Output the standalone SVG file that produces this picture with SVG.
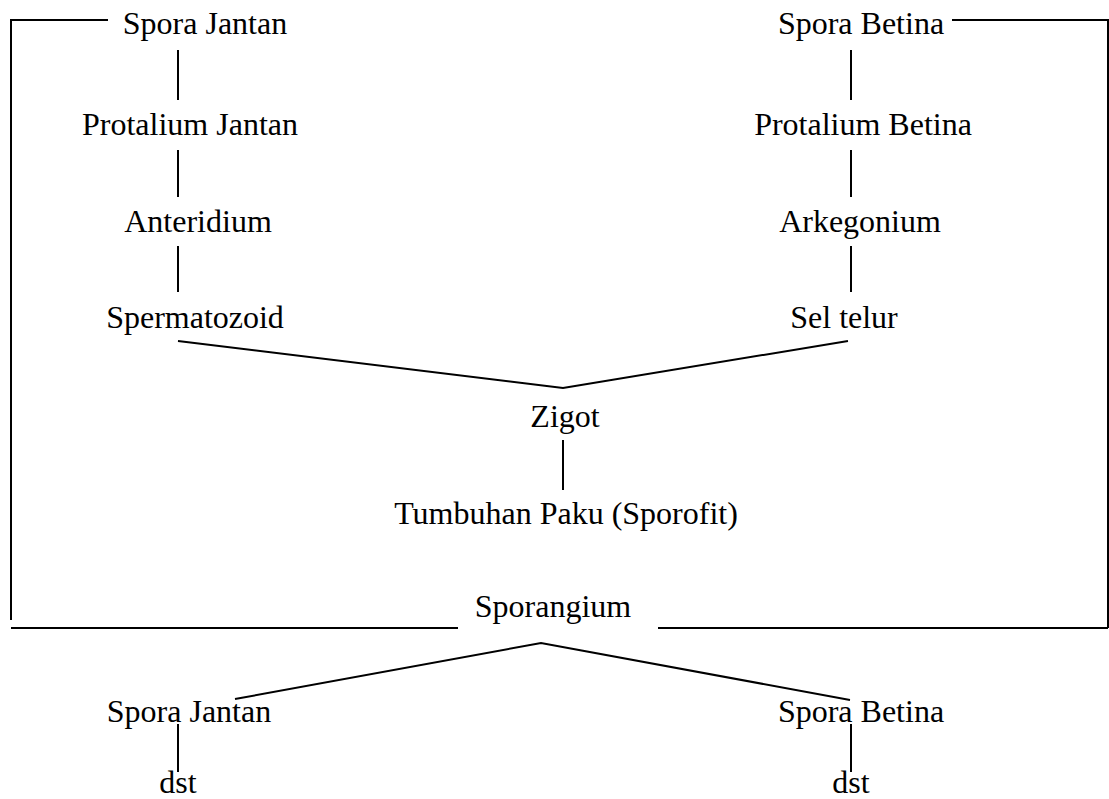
<svg xmlns="http://www.w3.org/2000/svg" width="1109" height="799" viewBox="0 0 1109 799">
<style>
text{font-family:"Liberation Serif","Times New Roman",serif;font-size:32px;fill:#000;text-anchor:middle}
line,polyline{stroke:#000;stroke-width:2;fill:none}
</style>
<rect width="1109" height="799" fill="#fff"/>
<g id="connectors">
<polyline points="108,20 11,20 11,620"/>
<polyline points="952,20 1108,20 1108,628"/>
<line x1="11" y1="628" x2="458" y2="628"/>
<line x1="658" y1="628" x2="1108" y2="628"/>
<line x1="178" y1="50" x2="178" y2="100"/>
<line x1="178" y1="150" x2="178" y2="197"/>
<line x1="178" y1="246" x2="178" y2="292"/>
<line x1="851" y1="50" x2="851" y2="100"/>
<line x1="851" y1="150" x2="851" y2="197"/>
<line x1="851" y1="246" x2="851" y2="292"/>
<polyline points="178,341 563,388 848,341"/>
<line x1="563" y1="440" x2="563" y2="490"/>
<polyline points="235,699 541,643 850,700"/>
<line x1="178" y1="724" x2="178" y2="772"/>
<line x1="851" y1="724" x2="851" y2="772"/>
</g>
<g id="spora-jantan-top"><text x="205" y="34">Spora Jantan</text></g>
<g id="protalium-jantan"><text x="190" y="135">Protalium Jantan</text></g>
<g id="anteridium"><text x="198" y="232">Anteridium</text></g>
<g id="spermatozoid"><text x="195" y="328">Spermatozoid</text></g>
<g id="spora-betina-top"><text x="861" y="34">Spora Betina</text></g>
<g id="protalium-betina"><text x="863" y="135">Protalium Betina</text></g>
<g id="arkegonium"><text x="860" y="232">Arkegonium</text></g>
<g id="sel-telur"><text x="844" y="328">Sel telur</text></g>
<g id="zigot"><text x="565" y="427">Zigot</text></g>
<g id="tumbuhan-paku"><text x="566" y="524">Tumbuhan Paku (Sporofit)</text></g>
<g id="sporangium"><text x="553" y="617">Sporangium</text></g>
<g id="spora-jantan-bottom"><text x="189" y="722">Spora Jantan</text></g>
<g id="spora-betina-bottom"><text x="861" y="722">Spora Betina</text></g>
<g id="dst-left"><text x="178" y="793">dst</text></g>
<g id="dst-right"><text x="851" y="793">dst</text></g>
</svg>
